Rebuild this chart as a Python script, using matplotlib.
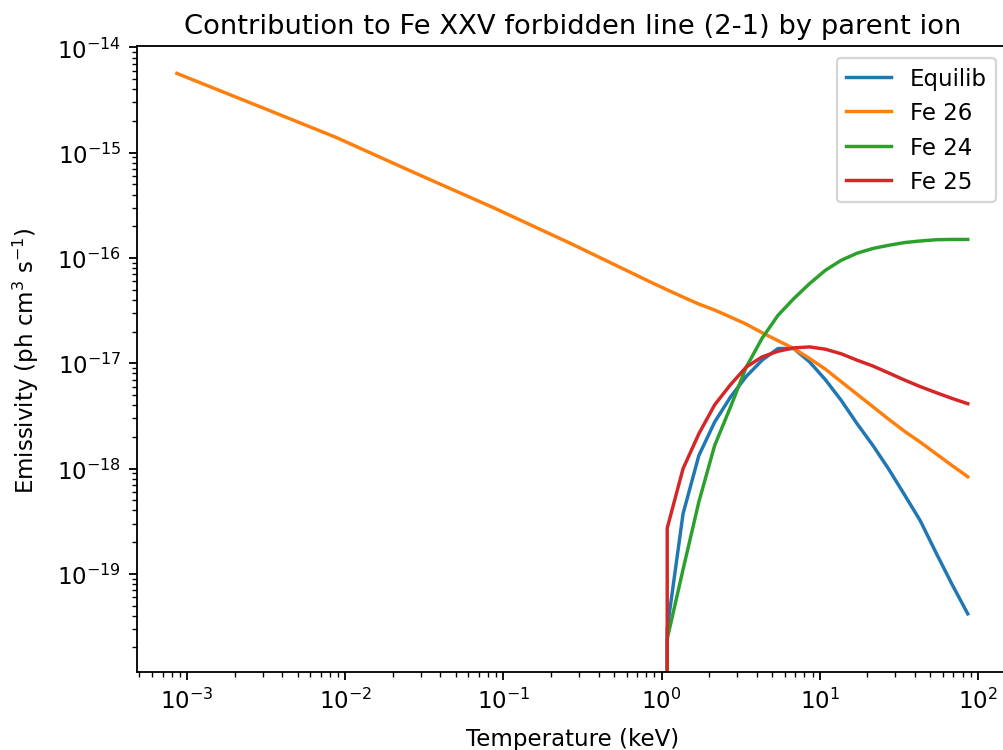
import numpy as np
import matplotlib
matplotlib.use("Agg")
import matplotlib.pyplot as plt

# ==========================================
# 1. TEMPERATURE GRIDS (keV)
# ==========================================
# hot grid: log T = 7.0 ... 9.0 K in 0.1 dex steps
temp_hot = [0.8617, 1.0848, 1.3657, 1.7193, 2.1645, 2.7249, 3.4305,
            4.3187, 5.4369, 6.8446, 8.6167, 10.848, 13.657, 17.193,
            21.645, 27.249, 34.305, 43.187, 54.369, 68.446, 86.167]

# Fe 26 is tabulated down to 1e4 K
temp_fe26 = [8.617e-4, 2.725e-3, 8.617e-3, 2.725e-2, 8.617e-2, 0.2725] + temp_hot

# ==========================================
# 2. EMISSIVITIES (ph cm^3 s^-1)
# ==========================================
emis_equilib = [0.0, 3.00e-20, 3.72e-19, 1.33e-18, 2.77e-18, 4.78e-18, 7.51e-18,
                1.07e-17, 1.38e-17, 1.38e-17, 1.03e-17, 6.98e-18, 4.44e-18,
                2.67e-18, 1.66e-18, 9.89e-19, 5.64e-19, 3.19e-19, 1.58e-19,
                7.98e-20, 4.17e-20]

emis_fe26 = [5.66e-15, 2.83e-15, 1.41e-15, 6.47e-16, 3.01e-16, 1.35e-16,
             5.85e-17, 4.98e-17, 4.25e-17, 3.65e-17, 3.20e-17, 2.75e-17,
             2.35e-17, 1.95e-17, 1.64e-17, 1.38e-17, 1.11e-17, 8.79e-18,
             6.68e-18, 5.08e-18, 3.87e-18, 2.94e-18, 2.26e-18, 1.78e-18,
             1.38e-18, 1.07e-18, 8.36e-19]

emis_fe24 = [0.0, 2.41e-20, 1.10e-19, 4.83e-19, 1.66e-18, 3.84e-18, 9.22e-18,
             1.73e-17, 2.85e-17, 4.11e-17, 5.71e-17, 7.64e-17, 9.51e-17,
             1.11e-16, 1.23e-16, 1.32e-16, 1.40e-16, 1.45e-16, 1.49e-16,
             1.50e-16, 1.50e-16]

emis_fe25 = [0.0, 2.72e-19, 9.96e-19, 2.14e-18, 4.03e-18, 6.26e-18, 9.22e-18,
             1.15e-17, 1.30e-17, 1.40e-17, 1.43e-17, 1.36e-17, 1.23e-17,
             1.07e-17, 9.42e-18, 8.09e-18, 6.93e-18, 6.00e-18, 5.26e-18,
             4.64e-18, 4.13e-18]

# ==========================================
# 3. PLOT
# ==========================================
dpi = 164.5
fig = plt.figure(figsize=(1003 / dpi, 751 / dpi), dpi=dpi)
ax = fig.add_axes([0.1369, 0.1039, 0.8674, 0.8329])

ax.plot(temp_hot, emis_equilib, label="Equilib")
ax.plot(temp_fe26, emis_fe26, label="Fe 26")
ax.plot(temp_hot, emis_fe24, label="Fe 24")
ax.plot(temp_hot, emis_fe25, label="Fe 25")

ax.set_xscale("log")
ax.set_yscale("log")
ax.set_ylim(1.17e-20, 1.02e-14)

ax.set_xlabel("Temperature (keV)", labelpad=6)
ax.set_ylabel("Emissivity (ph cm$^3$ s$^{-1}$)", labelpad=7)
ax.set_title("Contribution to Fe XXV forbidden line (2-1) by parent ion")
ax.legend(loc="upper right")

fig.savefig("out.png", dpi=dpi)
